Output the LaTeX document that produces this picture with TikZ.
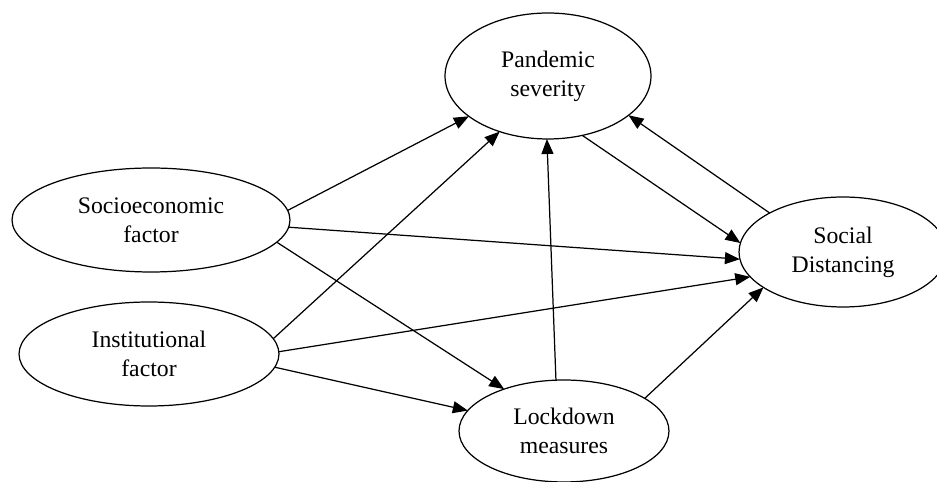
\documentclass[tikz,border=0pt]{standalone}
\usepackage{fontspec}
\setmainfont{Liberation Serif}
\usetikzlibrary{shapes.geometric,arrows.meta}

\begin{document}
\begin{tikzpicture}
  [x=.02cm,y=-.02cm,line width=.7pt,
   every node/.style={ellipse,draw,inner sep=0pt,outer sep=0pt,align=center,
     font=\fontsize{13.5}{16.5}\selectfont},
   >={Triangle[length=.3cm,width=.24cm]}]
  \useasboundingbox (0,0) rectangle (937,482);
  \node[minimum width=4.12cm,minimum height=2.52cm] (ps) at (548,76) {Pandemic\\severity};
  \node[minimum width=5.56cm,minimum height=2.08cm] (se) at (151,220) {Socioeconomic\\factor};
  \node[minimum width=5.2cm,minimum height=2.08cm] (inst) at (149,354) {Institutional\\factor};
  \node[minimum width=4.2cm,minimum height=2.04cm] (lock) at (564,431) {Lockdown\\measures};
  \node[minimum width=4.16cm,minimum height=2.2cm] (sd) at (843,252) {Social\\Distancing};

  \foreach \from/\to in {se.4/ps.207,inst.7/ps.229,lock.99/ps.269,ps.300/sd.175,
      sd.152/ps.334,se.357/sd.184,se.350/lock.145,inst.1/sd.195,
      inst.354/lock.168,lock.22/sd.204}
    \draw[->] (\from) -- (\to);

\end{tikzpicture}
\end{document}
